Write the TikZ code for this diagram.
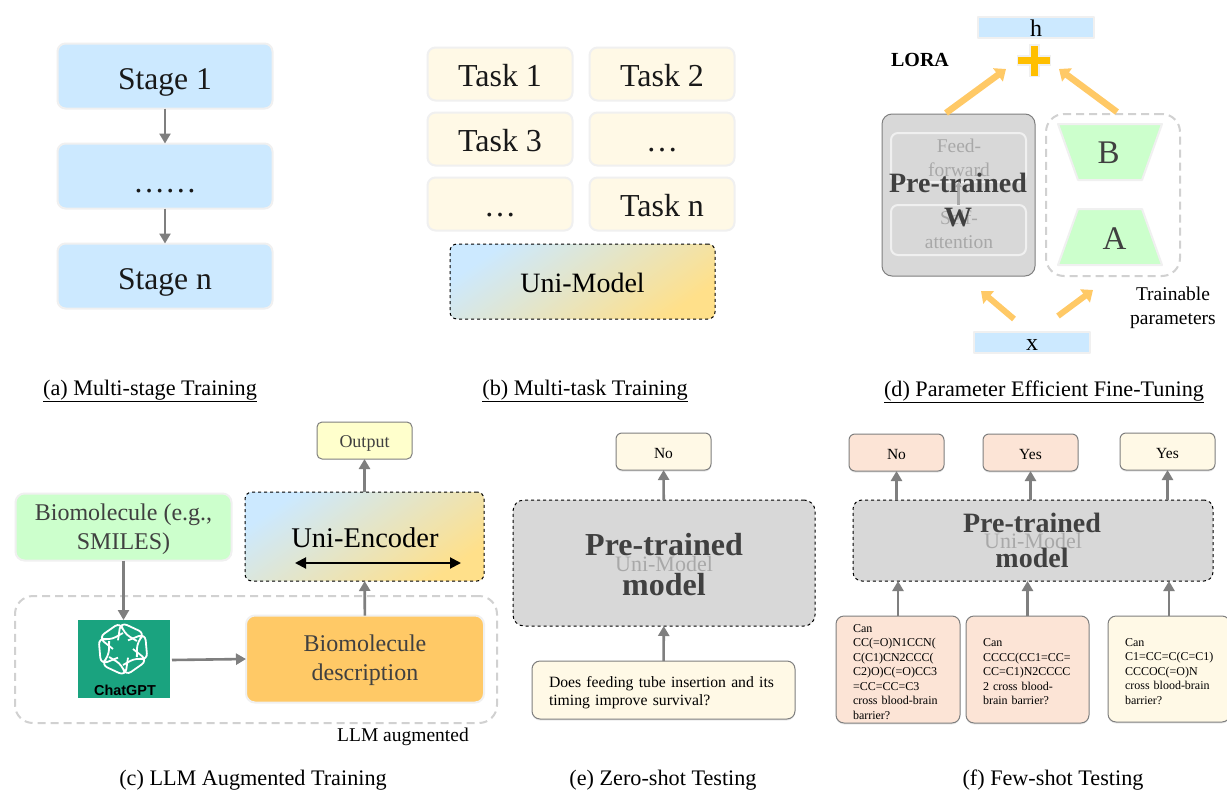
\documentclass[tikz,border=0pt]{standalone}
\usepackage{fontspec}
\setmainfont{Liberation Serif}
\newfontfamily\logofont{Liberation Sans}
\usetikzlibrary{arrows.meta,shadows,calc}
\definecolor{skyfill}{HTML}{CCE9FF}
\definecolor{creamfill}{HTML}{FFF9E6}
\definecolor{mintfill}{HTML}{CCFFCC}
\definecolor{peachfill}{HTML}{FCE4D6}
\definecolor{goldfill}{HTML}{FFC966}
\definecolor{lemonfill}{HTML}{FFFFCC}
\definecolor{sandfill}{HTML}{FFE08A}
\definecolor{halo}{HTML}{F0F0F0}
\definecolor{greybox}{HTML}{D8D8D8}
\definecolor{greyline}{HTML}{7F7F7F}
\definecolor{ghost}{HTML}{A8A8A8}
\definecolor{darktext}{HTML}{404040}
\definecolor{gptgreen}{HTML}{1AA37F}
\newcommand{\fsz}[1]{\fontsize{#1}{#1}\selectfont}
\begin{document}
\begin{tikzpicture}[x=1pt,y=-1pt,>={Triangle[length=10pt,width=11pt]},line join=round,
	nudge/.style={execute at begin node={\rule{0pt}{#1}}},
	box/.style={rectangle,rounded corners=6pt,inner sep=0pt,outer sep=0pt,align=center},
	stagebox/.style={box,rounded corners=8pt,draw=halo,line width=2pt,fill=skyfill,minimum width=215pt,minimum height=65pt,font=\fontsize{31.6}{36}\selectfont,text=black!90,nudge=33pt},
	taskbox/.style={box,rounded corners=8pt,draw=halo,line width=2pt,fill=creamfill,minimum width=145pt,minimum height=53pt,font=\fontsize{32}{34}\selectfont,text=black!90,nudge=24.5pt},
	gradbox/.style={box,draw=black,dashed,line width=1pt,left color=skyfill,right color=sandfill,shading angle=35,rounded corners=7pt},
	modelbox/.style={box,draw=black,dashed,line width=1pt,fill=greybox,rounded corners=9pt},
	ansbox/.style={box,draw=greyline,line width=1pt,minimum width=95pt,minimum height=37pt,font=\fontsize{15.5}{18}\selectfont,nudge=15pt,drop shadow={shadow xshift=0pt,shadow yshift=-1.5pt,opacity=.2}},
	qbox/.style={box,draw=greyline,line width=1pt,rounded corners=8pt,align=left,font=\fontsize{12}{14.5}\selectfont,nudge=12.5pt,drop shadow={shadow xshift=0pt,shadow yshift=-1.5pt,opacity=.15}},
	ghosttext/.style={text=ghost,inner sep=0pt,align=center},
	boldtext/.style={text=darktext,inner sep=0pt,align=center,font=\bfseries},
	caption/.style={inner sep=0pt,font=\fontsize{22.2}{26}\selectfont},
	note/.style={inner sep=0pt,align=center,font=\fontsize{19.5}{24}\selectfont},
	flow/.style={->,draw=greyline,line width=2.6pt},
	bigflow/.style={-{Triangle[length=10pt,width=16pt]},draw=goldfill,line width=6.5pt},
	trapbox/.style={draw=halo,line width=2pt,fill=mintfill},
	faint/.style={draw=black!18,dashed,dash pattern=on 8pt off 5pt,line width=2pt,rounded corners=18pt}]
	\useasboundingbox (0,0) rectangle (1227,790);
	\fill[white] (0,0) rectangle (1227,790);
	% (a)
	\node[stagebox] (stageA) at (165,76) {Stage 1};
	\node[stagebox] (stageB) at (165,176) {……};
	\node[stagebox] (stageC) at (165,276) {Stage n};
	\draw[flow] (stageA) -- (stageB);
	\draw[flow] (stageB) -- (stageC);
	% (b)
	\foreach \x/\y/\n/\t in {500/74/taskA/Task 1,662/74/taskB/Task 2,500/139/taskC/Task 3,662/139/taskD/…,500/204/taskE/…,662/204/taskF/Task n}{
		\node[taskbox] (\n) at (\x,\y) {\t};
	}
	\node[gradbox,minimum width=265pt,minimum height=75pt,font=\fsz{28},nudge=23pt] (uniModel) at (582.5,281.5) {Uni-Model};
	% (d)
	\node[box,rounded corners=0pt,draw=halo,line width=2pt,fill=skyfill,minimum width=116pt,minimum height=21pt] (hBar) at (1036,27) {};
	\node[inner sep=0pt,font=\fsz{24}] (hText) at (1036,28) {h};
	\node[inner sep=0pt,font=\bfseries\fsz{20}] (loraText) at (920,60) {LORA};
	\draw[draw=halo,line width=11pt] (1034,44)--(1034,77) (1017,60)--(1051,60);
	\draw[draw=orange!50!yellow,line width=7pt] (1034,46)--(1034,76) (1018,60)--(1050,60);
	\node[box,draw=greyline,line width=1pt,fill=greybox,rounded corners=10pt,minimum width=153pt,minimum height=162pt] (weightBox) at (958.5,195) {};
	\node[box,draw=halo,line width=2pt,rounded corners=7pt,minimum width=135pt,minimum height=49pt] (feedBox) at (958.5,157.5) {};
	\node[box,draw=halo,line width=2pt,rounded corners=7pt,minimum width=135pt,minimum height=50pt] (selfBox) at (958.5,230) {};
	\draw[flow,draw=ghost,-{Triangle[length=5pt,width=6pt]}] (selfBox) -- (feedBox);
	\node[ghosttext,font=\fontsize{19.5}{24}\selectfont] (feedText) at (959,158) {Feed-\\forward};
	\node[ghosttext,font=\fontsize{19.5}{24}\selectfont] (selfText) at (959,230) {Self-\\attention};
	\node[boldtext,font=\bfseries\fontsize{28}{34}\selectfont] (weightText) at (958,200) {Pre-trained\\W};
	\node[box,faint,minimum width=134pt,minimum height=162pt] (trainBox) at (1113,195) {};
	\draw[trapbox] (1058,124) -- (1162,124) -- (1142,180) -- (1078,180) -- cycle;
	\node[inner sep=0pt,text=darktext,font=\fsz{33}] (textB) at (1108.5,153) {B};
	\draw[trapbox] (1078,209) -- (1142,209) -- (1162,265) -- (1058,265) -- cycle;
	\node[inner sep=0pt,text=darktext,font=\fsz{33}] (textA) at (1114.5,239) {A};
	\node[note] (trainText) at (1173,308) {Trainable\\parameters};
	\node[box,rounded corners=0pt,draw=halo,line width=2pt,fill=skyfill,minimum width=116pt,minimum height=21pt] (xBar) at (1032,342.5) {};
	\node[inner sep=0pt,font=\fsz{24}] (xText) at (1032,345) {x};
	\coordinate (wOut) at (946,113);
	\coordinate (abOut) at (1117,112);
	\coordinate (plusL) at (1006,69);
	\coordinate (plusR) at (1059,69);
	\coordinate (xL) at (1014,319);
	\coordinate (xR) at (1058,316);
	\coordinate (wIn) at (981,291);
	\coordinate (abIn) at (1093,290);
	\draw[bigflow] (wOut) -- (plusL);
	\draw[bigflow] (abOut) -- (plusR);
	\draw[bigflow,line width=6pt] (xL) -- (wIn);
	\draw[bigflow,line width=6pt] (xR) -- (abIn);
	% (c)
	\node[box,faint,minimum width=482pt,minimum height=127pt] (llmBox) at (256,659.5) {};
	\node[box,draw=greyline,line width=1pt,fill=lemonfill,minimum width=95pt,minimum height=37pt,rounded corners=5pt,text=darktext,font=\fsz{18},nudge=18.5pt] (outBox) at (364.5,440.5) {Output};
	\node[gradbox,minimum width=239pt,minimum height=89pt] (uniEnc) at (364.5,536.5) {};
	\node[inner sep=0pt,font=\fsz{28.5}] (uniText) at (365,538) {Uni-Encoder};
	\node[box,draw=halo,line width=2pt,fill=mintfill,minimum width=216pt,minimum height=67pt,rounded corners=9pt] (bioBox) at (123.5,527) {};
	\node[ghosttext,text=darktext,font=\fontsize{24}{29}\selectfont] (bioText) at (123.5,529) {Biomolecule (e.g.,\\SMILES)};
	\node[box,draw=halo,line width=2pt,fill=goldfill,minimum width=238pt,minimum height=87pt,rounded corners=9pt] (descBox) at (365,659) {};
	\node[ghosttext,text=darktext,font=\fontsize{24}{29}\selectfont] (descText) at (365,660) {Biomolecule\\description};
	\node[rectangle,fill=gptgreen,minimum width=92pt,minimum height=78pt,inner sep=0pt,outer sep=0pt] (gptBox) at (124,659) {};
	\foreach \a in {0,60,...,300}{
		\draw[white,line width=1.8pt,rounded corners=7pt,shift={(123,649)}] (\a:10) -- (\a+25:27) -- (\a+85:27) -- (\a+92:16) -- (\a+150:16);
	}
	\node[inner sep=0pt,font=\logofont\bfseries\fsz{14.4}] (gptText) at (125,690) {ChatGPT};
	\node[note] (llmText) at (403,737) {LLM augmented};
	\coordinate (encL) at (295,563);
	\coordinate (encR) at (461,563);
	\draw[{Triangle[length=11pt,width=11pt]}-{Triangle[length=11pt,width=11pt]},line width=2pt] (encL) -- (encR);
	\draw[flow] (bioBox) -- (gptBox.north -| bioBox);
	\draw[flow] (gptBox.east) ++(2,1) coordinate (gptOut) -- (descBox.west);
	\draw[flow] (descBox) -- (uniEnc);
	\draw[flow] (uniEnc) -- (outBox);
	% (e)
	\node[box,ansbox,fill=creamfill] (ansE) at (663.5,451.5) {No};
	\node[modelbox,rounded corners=11pt,minimum width=302pt,minimum height=126pt] (modelE) at (664,563) {};
	\node[ghosttext,font=\fsz{22}] (uniE) at (664,564) {Uni-Model};
	\node[boldtext,font=\bfseries\fontsize{32}{40}\selectfont] (pretrainE) at (664,565) {Pre-trained\\model};
	\node[qbox,fill=creamfill,minimum width=263pt,minimum height=58pt,text width=229pt,font=\fontsize{15.7}{18.5}\selectfont,nudge=16pt] (questE) at (663.5,690) {Does feeding tube insertion and its\\timing improve survival?};
	\draw[flow] (questE) -- (modelE);
	\draw[flow] (modelE) -- (ansE);
	% (f)
	\node[box,ansbox,fill=peachfill] (ansA) at (896.5,452.5) {No};
	\node[box,ansbox,fill=peachfill] (ansB) at (1030.5,452.5) {Yes};
	\node[box,ansbox,fill=creamfill] (ansC) at (1167.5,451.5) {Yes};
	\node[modelbox,minimum width=360pt,minimum height=81pt] (modelF) at (1033,540.5) {};
	\node[ghosttext,font=\fsz{22}] (uniF) at (1033,541) {Uni-Model};
	\node[boldtext,font=\bfseries\fontsize{28}{35}\selectfont] (pretrainF) at (1032,540.5) {Pre-trained\\model};
	\node[qbox,fill=peachfill,minimum width=124pt,minimum height=107pt,text width=90pt] (questA) at (898,669.5) {Can\\CC(=O)N1CCN(\\C(C1)CN2CCC(\\C2)O)C(=O)CC3\\=CC=CC=C3\\cross blood-brain\\barrier?};
	\node[qbox,fill=peachfill,minimum width=123pt,minimum height=107pt,text width=89pt] (questB) at (1027.5,669.5) {Can\\CCCC(CC1=CC=\\CC=C1)N2CCCC\\2 cross blood-\\brain barrier?};
	\node[qbox,fill=creamfill,minimum width=122pt,minimum height=106pt,text width=88pt] (questC) at (1169,669) {Can\\C1=CC=C(C=C1)\\CCCOC(=O)N\\cross blood-brain\\barrier?};
	\foreach \n in {A,B,C}{
		\draw[flow] (quest\n) -- (quest\n |- modelF.south);
		\draw[flow] (ans\n |- modelF.north) -- (ans\n);
	}
	% captions
	\node[caption] (capA) at (150,391) {\underline{(a) Multi-stage Training}};
	\node[caption] (capB) at (585,391) {\underline{(b) Multi-task Training}};
	\node[caption] (capD) at (1044,392) {\underline{(d) Parameter Efficient Fine-Tuning}};
	\node[caption] (capC) at (253,781) {\underline{(c) LLM Augmented Training}};
	\node[caption] (capE) at (663,781) {\underline{(e) Zero-shot Testing}};
	\node[caption] (capF) at (1053,781) {\underline{(f) Few-shot Testing}};
\end{tikzpicture}
\end{document}
